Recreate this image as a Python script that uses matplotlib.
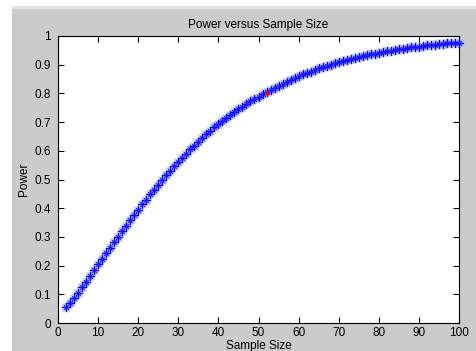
import matplotlib
matplotlib.use("Agg")
import matplotlib.pyplot as plt
from matplotlib.patches import Rectangle

plt.rcParams['font.family'] = ['Liberation Sans', 'DejaVu Sans']

sample_sizes = list(range(2, 101))
power = [
    0.055, 0.071, 0.088, 0.106, 0.124, 0.143, 0.164, 0.185, 0.206,
    0.224, 0.243, 0.262, 0.282, 0.301, 0.320, 0.339, 0.358, 0.376, 0.395,
    0.413, 0.430, 0.448, 0.465, 0.482, 0.498, 0.515, 0.530, 0.546, 0.561,
    0.576, 0.590, 0.605, 0.618, 0.632, 0.645, 0.658, 0.670, 0.682, 0.693,
    0.704, 0.715, 0.725, 0.735, 0.745, 0.754, 0.763, 0.772, 0.781, 0.789,
    0.797, 0.804, 0.812, 0.820, 0.827, 0.834, 0.841, 0.848, 0.854, 0.860,
    0.866, 0.871, 0.876, 0.882, 0.887, 0.891, 0.896, 0.900, 0.905, 0.909,
    0.913, 0.916, 0.920, 0.923, 0.927, 0.930, 0.933, 0.936, 0.939, 0.942,
    0.944, 0.947, 0.949, 0.951, 0.953, 0.956, 0.958, 0.960, 0.961, 0.963,
    0.965, 0.967, 0.968, 0.969, 0.971, 0.972, 0.974, 0.975, 0.976, 0.977,
]
target_n = [52]
target_power = [0.80]

x_ticks = list(range(0, 101, 10))
y_ticks = [0, 0.1, 0.2, 0.3, 0.4, 0.5, 0.6, 0.7, 0.8, 0.9, 1]
y_tick_labels = ['0', '0.1', '0.2', '0.3', '0.4', '0.5', '0.6', '0.7', '0.8', '0.9', '1']

W, H = 476, 351
fig = plt.figure(figsize=(W / 100, H / 100), dpi=100)
fig.patch.set_facecolor('white')
fig.patches.append(Rectangle((12 / W, 0), 1 - 12 / W, (H - 6) / H, transform=fig.transFigure,
                             facecolor='#e4e4e4', edgecolor='none', zorder=-2))
fig.patches.append(Rectangle((12 / W, 0), 1 - 12 / W, (H - 9) / H, transform=fig.transFigure,
                             facecolor='#cbcbcb', edgecolor='none', zorder=-1))

ax = fig.add_axes([58 / W, (H - 323) / H, 401 / W, 287 / H])
ax.set_facecolor('white')

# light halo to mimic the soft rendering
ax.plot(sample_sizes, power, linestyle='none', marker=(8, 2, 0), markersize=7,
        markeredgewidth=1.6, color='#aab0ff', alpha=0.8, clip_on=False, zorder=2)
ax.plot(sample_sizes, power, linestyle='none', marker=(4, 2, 0), markersize=6,
        markeredgewidth=0.8, color='#0000ff', clip_on=False, zorder=3)
ax.plot(sample_sizes, power, linestyle='none', marker=(4, 2, 45), markersize=4.5,
        markeredgewidth=0.6, color='#2020ff', clip_on=False, zorder=3)
ax.plot(target_n, target_power, linestyle='none', marker='o', markersize=3,
        color='#ff0000', markeredgewidth=0, zorder=4)

ax.set_xlim(0, 100)
ax.set_ylim(0, 1)
ax.set_xticks(x_ticks)
ax.set_yticks(y_ticks)
ax.set_yticklabels(y_tick_labels)
ax.tick_params(direction='in', length=4, width=0.8, top=True, right=True,
               labelsize=8.5, colors='#000000', pad=3)
ax.tick_params(axis='y', pad=5)
for s in ax.spines.values():
    s.set_linewidth(0.8)

ax.set_title('Power versus Sample Size', fontsize=8.5, pad=6)
ax.set_xlabel('Sample Size', fontsize=8.5, labelpad=0.5)
ax.set_ylabel('Power', fontsize=8.5, labelpad=3)

fig.savefig('out.png', dpi=100)
